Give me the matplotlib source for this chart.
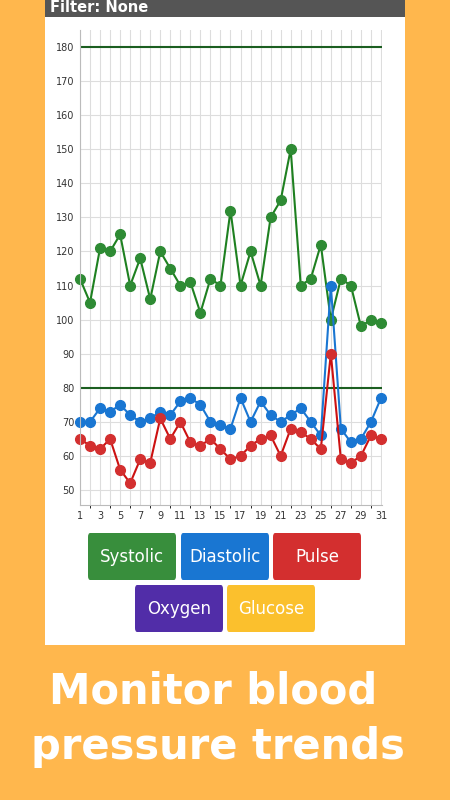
import matplotlib
matplotlib.use("Agg")
import matplotlib.pyplot as plt
from matplotlib.patches import Rectangle, FancyBboxPatch

days = list(range(1, 32))
systolic = [112,105,121,120,125,110,118,106,120,115,110,111,102,112,110,132,110,120,110,130,135,150,110,112,122,100,112,110,98,100,99]
diastolic = [70,70,74,73,75,72,70,71,73,72,76,77,75,70,69,68,77,70,76,72,70,72,74,70,66,110,68,64,65,70,77]
pulse = [65,63,62,65,56,52,59,58,71,65,70,64,63,65,62,59,60,63,65,66,60,68,67,65,62,90,59,58,60,66,65]
thresholds = [180, 80]
yticks = list(range(50, 190, 10))
xticks = list(range(1, 32, 2))
buttons = [("Systolic", "#388E3C"), ("Diastolic", "#1976D2"), ("Pulse", "#D32F2F"),
           ("Oxygen", "#512DA8"), ("Glucose", "#FBC02D")]

W, H = 450, 800
fig = plt.figure(figsize=(4.5, 8), dpi=100)
fig.patch.set_facecolor("#FFB74D")

def fx(x): return x / W
def fy(y): return 1 - y / H

# white panel
fig.add_artist(Rectangle((fx(45), fy(645)), fx(360), 645 / H, transform=fig.transFigure,
                         facecolor="white", edgecolor="none", zorder=0))
fig.add_artist(Rectangle((fx(45), fy(17)), fx(360), 17 / H, transform=fig.transFigure,
                         facecolor="#555555", edgecolor="none", zorder=1))
fig.text(fx(50), fy(8), "Filter: None", color="white", fontsize=10.5, fontweight="bold",
         va="center", ha="left")

ax = fig.add_axes([fx(80), fy(505), fx(302), 475 / H])
ax.set_facecolor("none")
ax.set_xlim(1, 31.1)
ax.set_ylim(45.6, 185)
ax.set_yticks(yticks)
ax.set_xticks(xticks)
ax.tick_params(labelsize=7, colors="#333333", length=0, pad=4)
ax.grid(True, color="#DDDDDD", linewidth=0.8)
ax.set_xticks(days, minor=True)
ax.grid(True, which="minor", axis="x", color="#DDDDDD", linewidth=0.8)
for s in ["top", "right"]:
    ax.spines[s].set_visible(False)
for s in ["left", "bottom"]:
    ax.spines[s].set_color("#BBBBBB")
for t in thresholds:
    ax.axhline(t, color="#1B5E20", linewidth=1.5)
ax.plot(days, systolic, color="#1E8020", lw=1.5, marker="o", ms=7, mfc="#2E8B34", mec="#2E8B34", clip_on=False)
ax.plot(days, diastolic, color="#1976D2", lw=1.5, marker="o", ms=7, mfc="#1976D2", mec="#1976D2", clip_on=False)
ax.plot(days, pulse, color="#CC1111", lw=1.5, marker="o", ms=7, mfc="#D32F2F", mec="#D32F2F", clip_on=False)

pos = [(88, 533), (181, 533), (273, 533), (135, 585), (227, 585)]
for (label, col), (x, y) in zip(buttons, pos):
    fig.add_artist(FancyBboxPatch((fx(x), fy(y + 47)), fx(88), 47 / H, transform=fig.transFigure,
                                  boxstyle="round,pad=0,rounding_size=0.005", facecolor=col, edgecolor="none"))
    fig.text(fx(x + 44), fy(y + 24), label, color="white", fontsize=12, ha="center", va="center")

fig.text(fx(213), fy(692), "Monitor blood", color="white", fontsize=30, fontweight="bold", ha="center", va="center")
fig.text(fx(218), fy(747), "pressure trends", color="white", fontsize=30, fontweight="bold", ha="center", va="center")

fig.savefig("out.png", dpi=100, facecolor=fig.get_facecolor())
